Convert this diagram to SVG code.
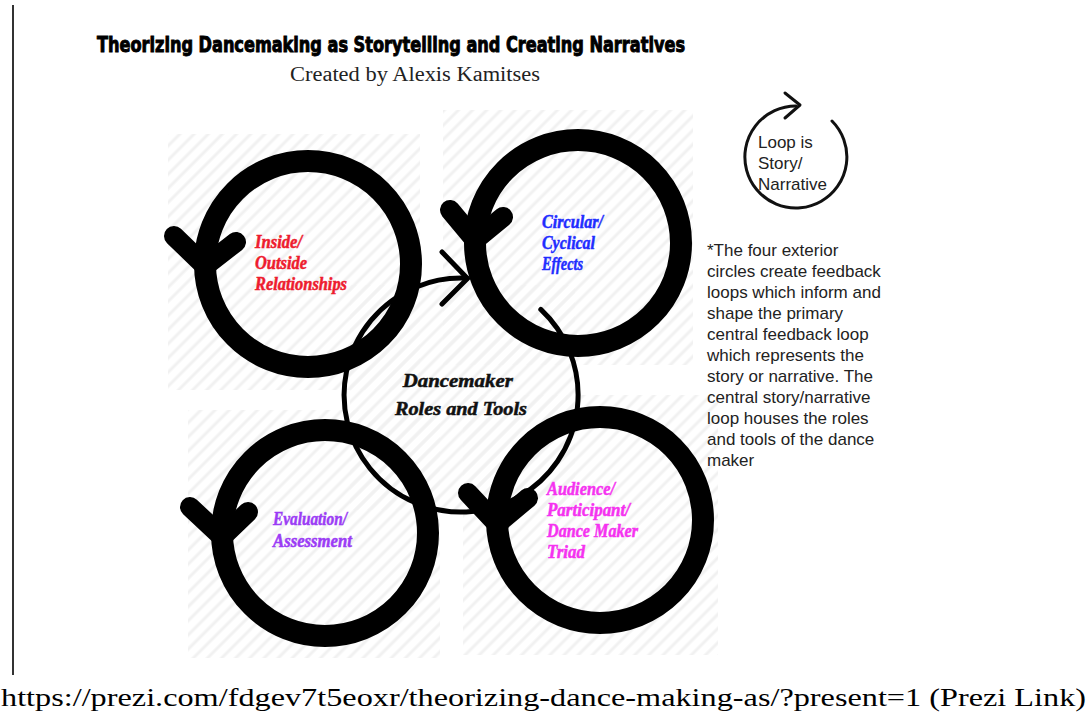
<svg xmlns="http://www.w3.org/2000/svg" width="1090" height="724" viewBox="0 0 1090 724">
  <defs>
    <pattern id="hatch" width="10" height="10" patternUnits="userSpaceOnUse" patternTransform="rotate(45)">
      <line x1="2" y1="0" x2="2" y2="10" stroke="#f1f1f1" stroke-width="3"/>
    </pattern>
    <style>
      .ring { fill: none; stroke: #000; stroke-width: 22; }
      .head { fill: none; stroke: #000; stroke-width: 20; stroke-linecap: round; stroke-linejoin: round; }
      .loop { fill: none; stroke: #000; stroke-width: 5; stroke-linecap: round; stroke-linejoin: round; }
      .script { font-family: "Liberation Serif", "DejaVu Serif", serif; font-weight: bold; font-style: italic; font-size: 18px; stroke-width: 0.5; }
      .sans { font-family: "Liberation Sans", Arial, sans-serif; font-size: 17px; fill: #222; }
      .hatch { fill: url(#hatch); }
    </style>
  </defs>

  <rect width="1090" height="724" fill="#fff"/>

  <!-- page margin rule -->
  <line x1="13" y1="5" x2="13" y2="675" stroke="#333" stroke-width="2"/>

  <!-- headings -->
  <text x="97" y="52" textLength="588" lengthAdjust="spacingAndGlyphs" font-family="'Liberation Sans Narrow', 'DejaVu Sans Condensed', 'Liberation Sans', sans-serif" font-weight="bold" font-size="21" fill="#000" stroke="#000" stroke-width="0.9">Theorizing Dancemaking as Storytelling and Creating Narratives</text>
  <text x="290" y="81" textLength="250" lengthAdjust="spacingAndGlyphs" font-family="'Liberation Serif', 'Times New Roman', serif" font-size="20" fill="#222">Created by Alexis Kamitses</text>

  <!-- striped backdrops behind the loops -->
  <g id="backdrops">
    <rect class="hatch" x="168" y="134" width="252" height="256"/>
    <rect class="hatch" x="443" y="110" width="250" height="255"/>
    <rect class="hatch" x="188" y="410" width="252" height="248"/>
    <rect class="hatch" x="463" y="395" width="255" height="260"/>
    <rect class="hatch" x="350" y="285" width="225" height="225"/>
  </g>

  <!-- central story/narrative loop -->
  <g id="connectors">
    <path class="loop" d="M 540.8 309.4 A 117 117 0 1 1 467.1 278.2"/>
    <polyline class="loop" points="442,252 467.5,278.5 442,304"/>
  </g>

  <g id="node-inside-outside">
    <circle class="ring" cx="308" cy="264" r="103"/>
    <polyline class="head" points="174,236 205,266 236,242"/>
    <text class="script" fill="#ee1c2e" stroke="#ee1c2e">
      <tspan x="255" y="248" textLength="47" lengthAdjust="spacingAndGlyphs">Inside/</tspan>
      <tspan x="255" y="269" textLength="52" lengthAdjust="spacingAndGlyphs">Outside</tspan>
      <tspan x="255" y="290" textLength="92" lengthAdjust="spacingAndGlyphs">Relationships</tspan>
    </text>
  </g>

  <g id="node-circular-effects">
    <circle class="ring" cx="578" cy="243" r="103"/>
    <polyline class="head" points="450,210 475,240 503,217"/>
    <text class="script" fill="#1f2dff" stroke="#1f2dff">
      <tspan x="542" y="228" textLength="61" lengthAdjust="spacingAndGlyphs">Circular/</tspan>
      <tspan x="542" y="249" textLength="53" lengthAdjust="spacingAndGlyphs">Cyclical</tspan>
      <tspan x="542" y="270" textLength="41" lengthAdjust="spacingAndGlyphs">Effects</tspan>
    </text>
  </g>

  <g id="node-evaluation">
    <circle class="ring" cx="325" cy="533" r="103"/>
    <polyline class="head" points="190,507 222,537 248,512"/>
    <text class="script" fill="#9b3cf5" stroke="#9b3cf5">
      <tspan x="273" y="525" textLength="74" lengthAdjust="spacingAndGlyphs">Evaluation/</tspan>
      <tspan x="273" y="547" textLength="79" lengthAdjust="spacingAndGlyphs">Assessment</tspan>
    </text>
  </g>

  <g id="node-triad">
    <circle class="ring" cx="600" cy="520" r="103"/>
    <polyline class="head" points="468,493 497,524 528,498"/>
    <text class="script" fill="#f532f0" stroke="#f532f0">
      <tspan x="547" y="495" textLength="68" lengthAdjust="spacingAndGlyphs">Audience/</tspan>
      <tspan x="547" y="516" textLength="83" lengthAdjust="spacingAndGlyphs">Participant/</tspan>
      <tspan x="547" y="537" textLength="91" lengthAdjust="spacingAndGlyphs">Dance Maker</tspan>
      <tspan x="547" y="558" textLength="38" lengthAdjust="spacingAndGlyphs">Triad</tspan>
    </text>
  </g>

  <g id="node-dancemaker">
    <text class="script" font-size="21" fill="#111" stroke="#111" text-anchor="middle">
      <tspan x="460" y="387" textLength="110" lengthAdjust="spacingAndGlyphs">Dancemaker</tspan>
      <tspan x="461" y="415" textLength="132" lengthAdjust="spacingAndGlyphs">Roles and Tools</tspan>
    </text>
  </g>

  <!-- legend: the loop symbol -->
  <g id="legend-loop">
    <path d="M 796 106 A 51 51 0 1 0 832 121" fill="none" stroke="#111" stroke-width="3" stroke-linecap="round"/>
    <polyline points="785,93 800,105 785,118" fill="none" stroke="#111" stroke-width="3" stroke-linecap="round" stroke-linejoin="round"/>
    <text class="sans" fill="#111">
      <tspan x="758" y="148">Loop is</tspan>
      <tspan x="758" y="169">Story/</tspan>
      <tspan x="758" y="190">Narrative</tspan>
    </text>
  </g>

  <!-- explanatory note -->
  <g id="note">
    <text class="sans">
      <tspan x="707" y="256">*The four exterior</tspan>
      <tspan x="707" y="277">circles create feedback</tspan>
      <tspan x="707" y="298">loops which inform and</tspan>
      <tspan x="707" y="319">shape the primary</tspan>
      <tspan x="707" y="340">central feedback loop</tspan>
      <tspan x="707" y="361">which represents the</tspan>
      <tspan x="707" y="382">story or narrative. The</tspan>
      <tspan x="707" y="403">central story/narrative</tspan>
      <tspan x="707" y="424">loop houses the roles</tspan>
      <tspan x="707" y="445">and tools of the dance</tspan>
      <tspan x="707" y="466">maker</tspan>
    </text>
  </g>

  <!-- source link -->
  <text x="1" y="706" textLength="1085" lengthAdjust="spacingAndGlyphs" font-family="'Liberation Serif', 'Times New Roman', serif" font-size="26" fill="#000">https://prezi.com/fdgev7t5eoxr/theorizing-dance-making-as/?present=1 (Prezi Link)</text>
</svg>
